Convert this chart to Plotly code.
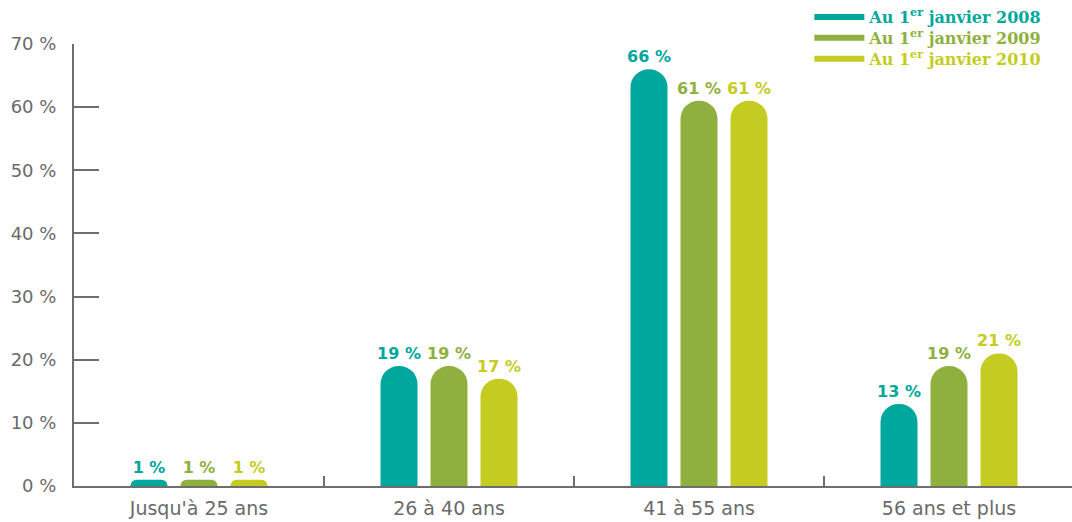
import plotly.graph_objects as go

categories = ["Jusqu'à 25 ans", "26 à 40 ans", "41 à 55 ans", "56 ans et plus"]
series_names = ["Au 1<sup>er</sup> janvier 2008", "Au 1<sup>er</sup> janvier 2009", "Au 1<sup>er</sup> janvier 2010"]
v2008 = [1, 19, 66, 13]
v2009 = [1, 19, 61, 19]
v2010 = [1, 17, 61, 21]
y_ticks = [0, 10, 20, 30, 40, 50, 60, 70]
y_tick_labels = [f"{t} %" for t in y_ticks]

colors = ["#00A79D", "#8FB03E", "#C4CC22"]
series = [v2008, v2009, v2010]
legend_ids = ["legend", "legend2", "legend3"]

fig = go.Figure()
for name, vals, col in zip(series_names, series, colors):
    fig.add_trace(go.Bar(
        x=categories, y=vals, name=name,
        marker=dict(color=col, cornerradius="50%", line=dict(width=0)),
        text=[f"{v} %" for v in vals], textposition="outside", constraintext="none",
        outsidetextfont=dict(color=col, size=16, family="DejaVu Sans", weight="bold"),
        cliponaxis=False, showlegend=False,
    ))
for name, col, lid in zip(series_names, colors, legend_ids):
    fig.add_trace(go.Scatter(
        x=[None], y=[None], mode="lines", name=name,
        line=dict(color=col, width=6), showlegend=True, legend=lid,
    ))

legend_y = [1.002, 0.960, 0.920]
leg_common = dict(
    x=0.755, xanchor="left", yanchor="top", xref="container", yref="container",
    bgcolor="rgba(0,0,0,0)", itemwidth=50, borderwidth=0,
)
fig.update_layout(
    width=1072, height=522,
    margin=dict(l=74, r=0, t=44, b=36, autoexpand=False),
    paper_bgcolor="white", plot_bgcolor="white",
    barmode="group", bargap=0.4, bargroupgap=0.26,
    showlegend=True,
)
for lid, col, ly in zip(legend_ids, colors, legend_y):
    fig.update_layout({lid: dict(leg_common, y=ly,
                                 font=dict(family="DejaVu Serif", size=16, weight="bold", color=col))})

fig.update_xaxes(
    type="category", range=[-0.5, 3.492],
    showline=True, linecolor="#6E6E6E", linewidth=2,
    ticks="inside", tickson="boundaries", ticklen=10, tickcolor="#6E6E6E", tickwidth=2,
    tickfont=dict(family="DejaVu Sans", size=19, color="#6A6A6A"),
    ticklabelstandoff=4,
    showgrid=False, zeroline=False,
)
fig.update_yaxes(
    range=[0, 70], tickvals=y_ticks, ticktext=y_tick_labels,
    showline=True, linecolor="#6E6E6E", linewidth=2,
    ticks="inside", ticklen=25, tickcolor="#6E6E6E", tickwidth=2,
    tickfont=dict(family="DejaVu Sans", size=18, color="#6A6A6A"),
    ticklabelstandoff=12,
    showgrid=False, zeroline=False,
)

fig.write_html("out.html")
